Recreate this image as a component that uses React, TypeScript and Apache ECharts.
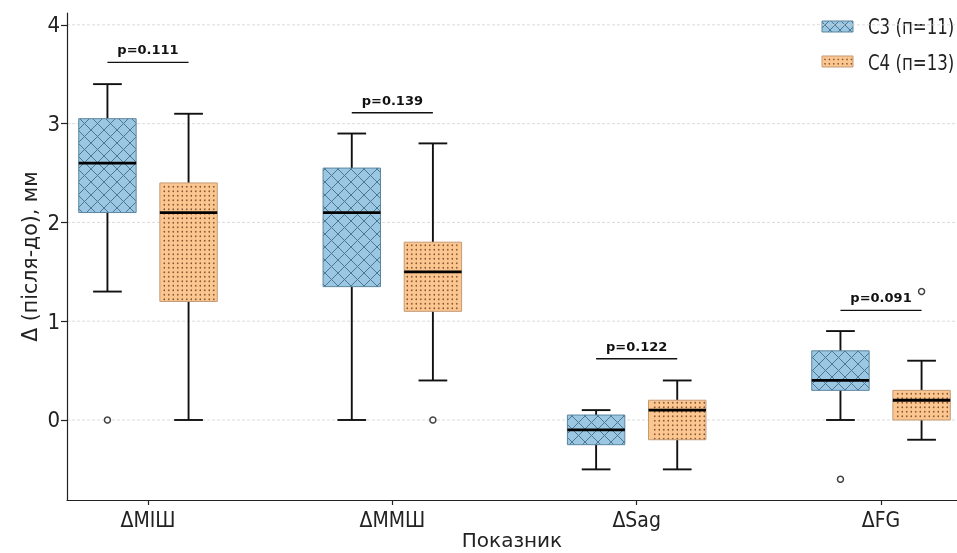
import React, { useEffect, useRef } from "react";
import * as echarts from "echarts";

// ---------- data ----------
const categories = ["ΔМІШ", "ΔММШ", "ΔSag", "ΔFG"];
const groupNames = ["C3 (п=11)", "C4 (п=13)"];
// [low whisker, Q1, median, Q3, high whisker]
const c3Boxes = [
  [1.3, 2.1, 2.6, 3.05, 3.4],
  [0.0, 1.35, 2.1, 2.55, 2.9],
  [-0.5, -0.25, -0.1, 0.05, 0.1],
  [0.0, 0.3, 0.4, 0.7, 0.9],
];
const c4Boxes = [
  [0.0, 1.2, 2.1, 2.4, 3.1],
  [0.4, 1.1, 1.5, 1.8, 2.8],
  [-0.5, -0.2, 0.1, 0.2, 0.4],
  [-0.2, 0.0, 0.2, 0.3, 0.6],
];
// [category index, value]
const c3Outliers = [
  [0, 0.0],
  [3, -0.6],
];
const c4Outliers = [
  [1, 0.0],
  [3, 1.3],
];
const pLabels = ["p=0.111", "p=0.139", "p=0.122", "p=0.091"];
const pLineLevels = [3.62, 3.11, 0.62, 1.11];
const yTicks = [0, 1, 2, 3, 4];
const xTicks = [0, 1, 2, 3];

// ---------- layout / style ----------
const X_MIN = -0.3315;
const X_MAX = 3.311;
const Y_MIN = -0.81;
const Y_MAX = 4.12;
const OFFSET = 0.166;
const BOX_W = 0.235;
const COND = '"DejaVu Sans Condensed", "DejaVu Sans", sans-serif';
const SANS = '"DejaVu Sans", sans-serif';

const BLUE = { fill: "#9cc7e2", edge: "#5c86a0", pat: "#4a7893" };
const ORANGE = { fill: "#fbc690", edge: "#c49a76", pat: "#86552f" };

function crossHatch(x0: number, y0: number, x1: number, y1: number, S: number, color: string) {
  const out: any[] = [];
  const style = { stroke: color, lineWidth: 1 };
  for (let c = Math.ceil((x0 + y0) / S) * S; c <= x1 + y1; c += S) {
    const xa = Math.max(x0, c - y1);
    const xb = Math.min(x1, c - y0);
    if (xb > xa) out.push({ type: "line", shape: { x1: xa, y1: c - xa, x2: xb, y2: c - xb }, style });
  }
  for (let c = Math.ceil((x0 - y1) / S) * S; c <= x1 - y0; c += S) {
    const xa = Math.max(x0, c + y0);
    const xb = Math.min(x1, c + y1);
    if (xb > xa) out.push({ type: "line", shape: { x1: xa, y1: xa - c, x2: xb, y2: xb - c }, style });
  }
  return out;
}

function dots(x0: number, y0: number, x1: number, y1: number, S: number, color: string) {
  const out: any[] = [];
  const style = { fill: color };
  for (let y = Math.ceil(y0 / S) * S + S / 2; y < y1 - 0.8; y += S) {
    for (let x = Math.ceil(x0 / S) * S + S / 2; x < x1 - 0.8; x += S) {
      if (x > x0 + 0.8) out.push({ type: "circle", shape: { cx: x, cy: y, r: 0.8 }, style });
    }
  }
  return out;
}

function boxRenderer(offset: number, col: typeof BLUE, kind: "cross" | "dots") {
  return (params: any, api: any) => {
    const xi = api.value(0) as number;
    const v = [1, 2, 3, 4, 5].map((k) => api.value(k) as number);
    const cx = api.coord([xi + offset, 0])[0];
    const hw = api.size([BOX_W, 0])[0] / 2;
    const py = v.map((val) => api.coord([xi, val])[1]);
    const [yLow, yQ1, yMed, yQ3, yHigh] = py;
    const x0 = cx - hw;
    const x1 = cx + hw;
    const black = { stroke: "#111", lineWidth: 1.9 };
    const pattern =
      kind === "cross"
        ? crossHatch(x0, yQ3, x1, yQ1, 13, col.pat)
        : dots(x0, yQ3, x1, yQ1, 4.5, col.pat);
    return {
      type: "group",
      children: [
        { type: "line", shape: { x1: cx, y1: yQ1, x2: cx, y2: yLow }, style: black },
        { type: "line", shape: { x1: cx, y1: yQ3, x2: cx, y2: yHigh }, style: black },
        { type: "line", shape: { x1: cx - hw / 2, y1: yLow, x2: cx + hw / 2, y2: yLow }, style: black },
        { type: "line", shape: { x1: cx - hw / 2, y1: yHigh, x2: cx + hw / 2, y2: yHigh }, style: black },
        { type: "rect", shape: { x: x0, y: yQ3, width: x1 - x0, height: yQ1 - yQ3 }, style: { fill: col.fill } },
        ...pattern,
        {
          type: "rect",
          shape: { x: x0, y: yQ3, width: x1 - x0, height: yQ1 - yQ3 },
          style: { fill: "none", stroke: col.edge, lineWidth: 1 },
        },
        { type: "line", shape: { x1: x0, y1: yMed, x2: x1, y2: yMed }, style: { stroke: "#000", lineWidth: 2.8 } },
      ],
    };
  };
}

function legendItem(y: number, textY: number, col: typeof BLUE, kind: "cross" | "dots", label: string) {
  const x0 = 822, w = 31, h = 11;
  const pattern = kind === "cross" ? crossHatch(x0, y, x0 + w, y + h, 10, col.pat) : dots(x0, y, x0 + w, y + h, 4.4, col.pat);
  return [
    { type: "rect", shape: { x: x0, y, width: w, height: h }, style: { fill: col.fill } },
    ...pattern,
    { type: "rect", shape: { x: x0, y, width: w, height: h }, style: { fill: "none", stroke: col.edge, lineWidth: 1 } },
    {
      type: "text",
      x: 868,
      y: textY,
      scaleX: 0.88,
      style: { text: label, fontSize: 21, fontFamily: COND, fill: "#222", verticalAlign: "middle", align: "left" },
    },
  ];
}

export default function App() {
  const ref = useRef<HTMLDivElement>(null);
  useEffect(() => {
    if (!ref.current) return;
    const chart = echarts.init(ref.current, undefined, { renderer: "svg" });
    const axisLine = { show: true, onZero: false, lineStyle: { color: "#222", width: 1.2 } };
    const option: any = {
      animation: false,
      grid: { left: 67, right: 0, top: 13, bottom: 53, containLabel: false, outerBoundsMode: "none" },
      xAxis: {
        type: "value",
        min: X_MIN,
        max: X_MAX,
        axisLine,
        axisTick: { show: true, customValues: xTicks, length: 5, lineStyle: { color: "#222", width: 1.2 } },
        axisLabel: {
          customValues: xTicks,
          formatter: (v: number) => categories[Math.round(v)] ?? "",
          fontSize: 21,
          fontFamily: COND,
          color: "#222",
          margin: 9,
        },
        splitLine: { show: false },
        name: "Показник",
        nameLocation: "middle",
        nameGap: 30,
        nameMoveOverlap: false,
        nameTextStyle: { fontSize: 20, fontFamily: SANS, color: "#222", lineHeight: 20, verticalAlign: "top" },
      },
      yAxis: {
        type: "value",
        min: Y_MIN,
        max: Y_MAX,
        axisLine,
        axisTick: { show: true, customValues: yTicks, length: 6, lineStyle: { color: "#222", width: 1.2 } },
        axisLabel: {
          customValues: yTicks,
          formatter: (v: number) => String(v),
          fontSize: 22,
          fontFamily: COND,
          color: "#222",
          margin: 7,
        },
        splitLine: { show: false },
        name: "Δ (після-до), мм",
        nameLocation: "middle",
        nameGap: 27,
        nameMoveOverlap: false,
        nameTextStyle: { fontSize: 20.5, fontFamily: SANS, color: "#222" },
      },
      graphic: [
        ...legendItem(21, 27, BLUE, "cross", groupNames[0]),
        ...legendItem(56, 63, ORANGE, "dots", groupNames[1]),
      ],
      series: [
        {
          type: "custom",
          name: "grid",
          z: 0,
          silent: true,
          data: yTicks.map((v) => [0, v]),
          encode: { x: 0, y: 1 },
          renderItem: (params: any, api: any) => {
            const cs = params.coordSys;
            const y = api.coord([0, api.value(1)])[1];
            return {
              type: "line",
              shape: { x1: cs.x, y1: y, x2: cs.x + cs.width, y2: y },
              style: { stroke: "#d2d2d2", lineWidth: 0.8, lineDash: [3, 2] },
            };
          },
        },
        {
          type: "custom",
          name: groupNames[0],
          z: 2,
          data: c3Boxes.map((b, i) => [i, ...b]),
          encode: { x: 0, y: [1, 2, 3, 4, 5] },
          renderItem: boxRenderer(-OFFSET, BLUE, "cross"),
        },
        {
          type: "custom",
          name: groupNames[1],
          z: 2,
          data: c4Boxes.map((b, i) => [i, ...b]),
          encode: { x: 0, y: [1, 2, 3, 4, 5] },
          renderItem: boxRenderer(OFFSET, ORANGE, "dots"),
        },
        {
          type: "scatter",
          z: 3,
          symbol: "circle",
          symbolSize: 6,
          data: c3Outliers.map(([i, v]) => [i - OFFSET, v]),
          itemStyle: { color: "#fff", borderColor: "#111", borderWidth: 1.5 },
        },
        {
          type: "scatter",
          z: 3,
          symbol: "circle",
          symbolSize: 6,
          data: c4Outliers.map(([i, v]) => [i + OFFSET, v]),
          itemStyle: { color: "#fff", borderColor: "#111", borderWidth: 1.5 },
        },
        {
          type: "custom",
          z: 3,
          data: pLineLevels.map((y, i) => [i, y]),
          encode: { x: 0, y: 1 },
          renderItem: (params: any, api: any) => {
            const i = api.value(0) as number;
            const lv = api.value(1) as number;
            const a = api.coord([i - OFFSET, lv]);
            const b = api.coord([i + OFFSET, lv]);
            return {
              type: "group",
              children: [
                { type: "line", shape: { x1: a[0], y1: a[1], x2: b[0], y2: b[1] }, style: { stroke: "#111", lineWidth: 1.4 } },
                {
                  type: "text",
                  x: (a[0] + b[0]) / 2,
                  y: a[1] - 6,
                  style: {
                    text: pLabels[params.dataIndex],
                    fontSize: 13,
                    fontWeight: "bold",
                    fontFamily: SANS,
                    fill: "#111",
                    align: "center",
                    verticalAlign: "bottom",
                  },
                },
              ],
            };
          },
        },
      ],
    };
    chart.setOption(option);
    return () => chart.dispose();
  }, []);
  return <div ref={ref} style={{ position: "fixed", left: 0, top: 0, width: 957, height: 553 }} />;
}
